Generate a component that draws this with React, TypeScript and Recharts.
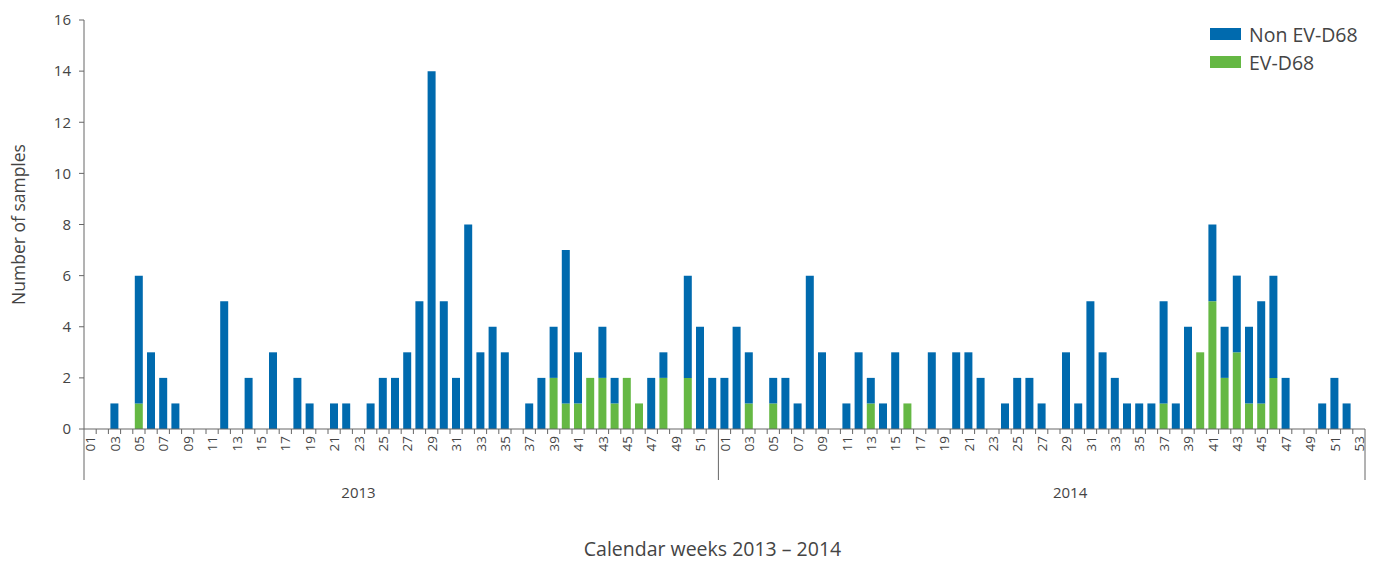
import React from 'react';
import { BarChart, Bar, XAxis, YAxis, Legend } from 'recharts';

const weeks2013 = ['01','02','03','04','05','06','07','08','09','10','11','12','13','14','15','16','17','18','19','20','21','22','23','24','25','26','27','28','29','30','31','32','33','34','35','36','37','38','39','40','41','42','43','44','45','46','47','48','49','50','51','52'];
const weeks2014 = ['01','02','03','04','05','06','07','08','09','10','11','12','13','14','15','16','17','18','19','20','21','22','23','24','25','26','27','28','29','30','31','32','33','34','35','36','37','38','39','40','41','42','43','44','45','46','47','48','49','50','51','52','53'];

const nonEv2013 = [0,0,1,0,5,3,2,1,0,0, 0,5,0,2,0,3,0,2,1,0, 1,1,0,1,2,2,3,5,14,5, 2,8,3,4,3,0,1,2,2,6, 2,0,2,1,0,0,2,1,0,4, 4,2];
const ev2013 = [0,0,0,0,1,0,0,0,0,0, 0,0,0,0,0,0,0,0,0,0, 0,0,0,0,0,0,0,0,0,0, 0,0,0,0,0,0,0,0,2,1, 1,2,2,1,2,1,0,2,0,2, 0,0];
const nonEv2014 = [2,4,2,0,1,2,1,6,3,0, 1,3,1,1,3,0,0,3,0,3, 3,2,0,1,2,2,1,0,3,1, 5,3,2,1,1,1,4,1,4,0, 3,2,3,3,4,4,2,0,0,1, 2,1,0];
const ev2014 = [0,0,1,0,1,0,0,0,0,0, 0,0,1,0,0,1,0,0,0,0, 0,0,0,0,0,0,0,0,0,0, 0,0,0,0,0,0,1,0,0,3, 5,2,3,1,1,2,0,0,0,0, 0,0,0];

const yTicks = [0, 2, 4, 6, 8, 10, 12, 14, 16];
const yearLabels: Record<string, string> = { '2013-23': '2013', '2014-29': '2014' };

const BLUE = '#006AAE';
const GREEN = '#65B844';
const TEXT = '#444';
const AXIS = '#666';
const FONT = '"Open Sans", "Noto Sans", sans-serif';

const data = [
  ...weeks2013.map((w, i) => ({ key: `2013-${w}`, nonEv: nonEv2013[i], ev: ev2013[i] })),
  ...weeks2014.map((w, i) => ({ key: `2014-${w}`, nonEv: nonEv2014[i], ev: ev2014[i] })),
];

const WeekTick = (props: any) => {
  const { x, y, payload, index } = props;
  const half = payload && payload.offset ? payload.offset : 6.1;
  const [year, wk] = String(payload.value).split('-');
  const wn = parseInt(wk, 10);
  const isFirst = wn === 1;
  const isLast = index === data.length - 1;
  const yl = yearLabels[payload.value];
  return (
    <g>
      <line x1={x - half} x2={x - half} y1={y} y2={isFirst ? y + 51 : y + 5} stroke={AXIS} strokeWidth={1} />
      {isLast && <line x1={x + half} x2={x + half} y1={y} y2={y + 51} stroke={AXIS} strokeWidth={1} />}
      {wn % 2 === 1 && (
        <text
          transform={`translate(${x + 5},${y + 7}) rotate(-90)`}
          textAnchor="end"
          fontSize={13.5}
          fill={TEXT}
          fontFamily={FONT}
        >
          {wk}
        </text>
      )}
      {yl && (
        <text x={x + (year === '2014' ? 4 : 0)} y={y + 69} textAnchor="middle" fontSize={15} fill={TEXT} fontFamily={FONT}>
          {yl}
        </text>
      )}
    </g>
  );
};

const YLabel = (props: any) => {
  const vb = props.viewBox || { x: 0, y: 20, width: 84, height: 409 };
  const cx = vb.x + 18;
  const cy = vb.y + vb.height / 2;
  return (
    <text
      x={cx}
      y={cy}
      transform={`rotate(-90, ${cx}, ${cy})`}
      textAnchor="middle"
      dominantBaseline="central"
      fontSize={17.5}
      fill={TEXT}
      fontFamily={FONT}
    >
      Number of samples
    </text>
  );
};

const XLabel = (props: any) => {
  const vb = props.viewBox || { x: 84, y: 429, width: 1281, height: 126 };
  return (
    <text x={vb.x + vb.width / 2 - 12} y={556} textAnchor="middle" fontSize={19.5} fill={TEXT} fontFamily={FONT}>
      Calendar weeks 2013 – 2014
    </text>
  );
};

const LegendContent = (props: any) => {
  const items = [...(props.payload || [])].reverse();
  return (
    <div style={{ fontFamily: FONT }}>
      {items.map((it: any) => (
        <div key={it.value} style={{ display: 'flex', alignItems: 'center', height: 28 }}>
          <span style={{ display: 'inline-block', width: 31, height: 12, background: it.color, marginRight: 8 }} />
          <span style={{ fontSize: 19.5, color: TEXT }}>{it.value}</span>
        </div>
      ))}
    </div>
  );
};

export default function App() {
  return (
    <div style={{ position: 'absolute', left: 0, top: 0 }}>
      <BarChart
        width={1375}
        height={561}
        data={data}
        margin={{ top: 20, right: 10, bottom: 6, left: 0 }}
        barSize={8}
      >
        <XAxis
          dataKey="key"
          interval={0}
          height={126}
          tickLine={false}
          tickSize={0}
          tickMargin={0}
          axisLine={{ stroke: AXIS }}
          tick={<WeekTick />}
          label={<XLabel />}
        />
        <YAxis
          width={84}
          domain={[0, 16]}
          ticks={yTicks}
          interval={0}
          tickSize={5}
          tickMargin={8}
          axisLine={{ stroke: AXIS }}
          tickLine={{ stroke: AXIS }}
          tick={{ fontSize: 15, fill: TEXT, fontFamily: FONT }}
          label={<YLabel />}
        />
        <Legend
          layout="vertical"
          align="center"
          verticalAlign="middle"
          wrapperStyle={{ top: 20, left: 1210, width: 165 }}
          content={<LegendContent />}
        />
        <Bar dataKey="ev" name="EV-D68" stackId="a" fill={GREEN} isAnimationActive={false} />
        <Bar dataKey="nonEv" name="Non EV-D68" stackId="a" fill={BLUE} isAnimationActive={false} />
      </BarChart>
    </div>
  );
}
